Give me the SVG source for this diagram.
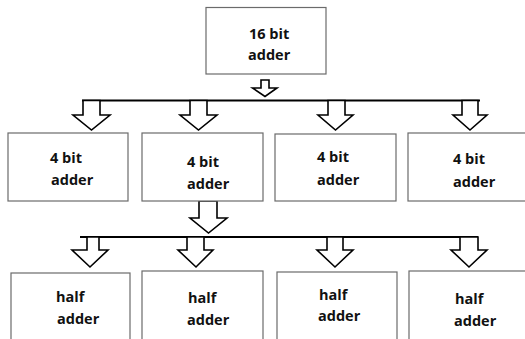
<svg xmlns="http://www.w3.org/2000/svg" width="525" height="339" viewBox="0 0 525 339">
<style>
.box{fill:#fff;stroke:#6b6b6b;stroke-width:1.2}
.t{font-family:"Open Sans","Liberation Sans",sans-serif;font-weight:bold;font-size:14.5px;fill:#111}
.arr{fill:#fff;stroke:#000;stroke-width:1.6;stroke-linejoin:miter}
.bus{stroke:#000;stroke-width:2;fill:none}
</style>
<rect width="525" height="339" fill="#fff"/>
<g id="connectors">
<path class="arr" d="M261,80 H269 V88 H277 L265,96.5 L252.5,88 H261 Z"/>
<line class="bus" x1="82" y1="100.5" x2="480" y2="100.5"/>
<path class="arr" d="M83,100.5 H100 V115 H110 L91.5,130 L73,115 H83 Z"/>
<path class="arr" d="M190,100.5 H207 V115 H217 L198.5,130 L180,115 H190 Z"/>
<path class="arr" d="M328,100.5 H345 V115 H353 L335.5,130 L318,115 H328 Z"/>
<path class="arr" d="M462,100.5 H478 V115 H487 L470,130 L453,115 H462 Z"/>
<path class="arr" d="M199,201 H217 V218 H227 L208.5,233 L190,218 H199 Z"/>
<line class="bus" x1="80" y1="237" x2="478" y2="237"/>
<path class="arr" d="M87,237 H99 V250 H108 L90,267 L72,250 H87 Z"/>
<path class="arr" d="M187,237 H204 V250 H213 L196,267 L178,250 H187 Z"/>
<path class="arr" d="M327,237 H343 V250 H353 L335,267 L317,250 H327 Z"/>
<path class="arr" d="M460,237 H478 V250 H487 L469,267 L451,250 H460 Z"/>
</g>
<g id="adder16">
<rect class="box" x="206" y="7.5" width="120" height="66.5"/>
<text class="t" x="249" y="39">16 bit</text>
<text class="t" x="248" y="60">adder</text>
</g>
<g id="adder4a">
<rect class="box" x="8" y="133" width="120" height="68"/>
<text class="t" x="50" y="163">4 bit</text>
<text class="t" x="51" y="185">adder</text>
</g>
<g id="adder4b">
<rect class="box" x="142" y="133" width="121" height="68"/>
<text class="t" x="187" y="167">4 bit</text>
<text class="t" x="187" y="189">adder</text>
</g>
<g id="adder4c">
<rect class="box" x="275" y="134" width="121" height="67"/>
<text class="t" x="317" y="162">4 bit</text>
<text class="t" x="317" y="185">adder</text>
</g>
<g id="adder4d">
<rect class="box" x="408" y="133" width="125" height="68"/>
<text class="t" x="453" y="164">4 bit</text>
<text class="t" x="453" y="187">adder</text>
</g>
<g id="half1">
<rect class="box" x="11" y="273" width="119" height="80"/>
<text class="t" x="56" y="302">half</text>
<text class="t" x="57" y="324">adder</text>
</g>
<g id="half2">
<rect class="box" x="142" y="271" width="121" height="80"/>
<text class="t" x="188" y="303">half</text>
<text class="t" x="187" y="325">adder</text>
</g>
<g id="half3">
<rect class="box" x="277" y="272" width="120" height="80"/>
<text class="t" x="319" y="300">half</text>
<text class="t" x="318" y="321">adder</text>
</g>
<g id="half4">
<rect class="box" x="409" y="271" width="125" height="80"/>
<text class="t" x="455" y="304">half</text>
<text class="t" x="454" y="326">adder</text>
</g>
</svg>
